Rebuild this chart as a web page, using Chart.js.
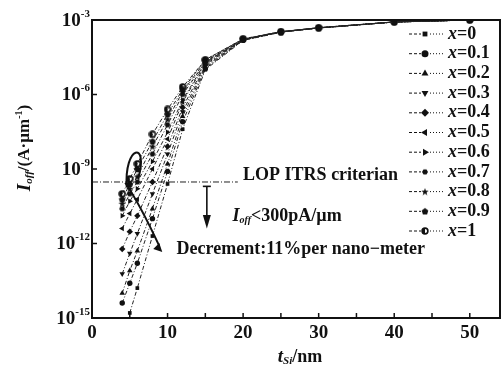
<!DOCTYPE html>
<html>
<head>
<meta charset="utf-8">
<script src="https://cdn.jsdelivr.net/npm/chart.js@4.4.0/dist/chart.umd.min.js"></script>
<style>
html,body{margin:0;padding:0;background:#fff;}
</style>
</head>
<body>
<canvas id="offChart" width="504" height="374"></canvas>
<script>
// silicon thickness t_Si (nm)
const thickness = [4, 5, 6, 8, 10, 12, 15, 20, 25, 30, 40, 50];

// off current I_off (A/um) for each Ge fraction x
const ioff_00 = [null, 1.6e-15, 1.6e-14, 2e-12, 2.5e-10, 4e-8, 1e-5, 1.5e-4, 3.2e-4, 4.7e-4, 8.2e-4, 1e-3];
const ioff_01 = [4e-15, 2.5e-14, 1.6e-13, 1e-11, 8e-10, 8e-8, 1.1e-5, 1.55e-4, 3.3e-4, 4.8e-4, 8.3e-4, 1e-3];
const ioff_02 = [1e-14, 8e-14, 5e-13, 2.5e-11, 1.6e-9, 1.3e-7, 1.25e-5, 1.55e-4, 3.3e-4, 4.8e-4, 8.3e-4, 1e-3];
const ioff_03 = [6e-14, 4e-13, 2.5e-12, 1e-10, 4e-9, 2e-7, 1.4e-5, 1.6e-4, 3.3e-4, 4.8e-4, 8.3e-4, 1e-3];
const ioff_04 = [6e-13, 3e-12, 1.3e-11, 3e-10, 8e-9, 3e-7, 1.6e-5, 1.6e-4, 3.3e-4, 4.8e-4, 8.3e-4, 1e-3];
const ioff_05 = [4e-12, 1.6e-11, 6e-11, 1e-9, 1.6e-8, 5e-7, 1.8e-5, 1.6e-4, 3.3e-4, 4.8e-4, 8.3e-4, 1e-3];
const ioff_06 = [1.3e-11, 5e-11, 1.6e-10, 2e-9, 3e-8, 6e-7, 2e-5, 1.65e-4, 3.3e-4, 4.8e-4, 8.3e-4, 1e-3];
const ioff_07 = [2.5e-11, 1e-10, 3e-10, 4e-9, 6e-8, 1e-6, 2e-5, 1.65e-4, 3.35e-4, 4.8e-4, 8.3e-4, 1e-3];
const ioff_08 = [4e-11, 1.6e-10, 5e-10, 8e-9, 1e-7, 1.3e-6, 2.2e-5, 1.7e-4, 3.35e-4, 4.9e-4, 8.4e-4, 1e-3];
const ioff_09 = [6e-11, 2.5e-10, 1e-9, 1.3e-8, 1.6e-7, 1.6e-6, 2.5e-5, 1.7e-4, 3.4e-4, 4.9e-4, 8.4e-4, 1e-3];
const ioff_10 = [1e-10, 4e-10, 1.6e-9, 2.5e-8, 2.5e-7, 2e-6, 2.5e-5, 1.75e-4, 3.4e-4, 4.9e-4, 8.4e-4, 1e-3];

const fractions = ['0', '0.1', '0.2', '0.3', '0.4', '0.5', '0.6', '0.7', '0.8', '0.9', '1'];
const allSeries = [ioff_00, ioff_01, ioff_02, ioff_03, ioff_04, ioff_05, ioff_06, ioff_07, ioff_08, ioff_09, ioff_10];

// LOP ITRS criterion 300 pA/um
const critX = [0, 19.3];
const critY = [3e-10, 3e-10];

// axis ticks
const xTicks = [0, 5, 10, 15, 20, 25, 30, 35, 40, 45, 50];
const xLabels = [0, 10, 20, 30, 40, 50];
const yTicks = [1e-15, 1e-12, 1e-9, 1e-6, 1e-3];
const yExp = ['-15', '-12', '-9', '-6', '-3'];


// small custom marker shapes
function makeMarker(draw){
let c = document.createElement('canvas');
c.width = 8; c.height = 8;
let g = c.getContext('2d');
g.fillStyle = '#111'; g.strokeStyle = '#111';
draw(g);
return c;
}
const starMark = makeMarker(g => {
g.beginPath();
for(let i = 0; i < 10; i++){
let r = i % 2 ? 1.6 : 3.9;
let a = -Math.PI/2 + i*Math.PI/5;
g.lineTo(4 + r*Math.cos(a), 4.3 + r*Math.sin(a));
}
g.closePath(); g.fill();
});
const pentMark = makeMarker(g => {
g.beginPath();
for(let i = 0; i < 5; i++){
let a = -Math.PI/2 + i*2*Math.PI/5;
g.lineTo(4 + 3.5*Math.cos(a), 4.3 + 3.5*Math.sin(a));
}
g.closePath(); g.fill();
});
const hexMark = makeMarker(g => {
g.beginPath();
for(let i = 0; i < 6; i++){
let a = i*Math.PI/3;
g.lineTo(4 + 3*Math.cos(a), 4 + 3*Math.sin(a));
}
g.closePath(); g.fill();
});
const ringMark = makeMarker(g => {
g.beginPath(); g.arc(4, 4, 2.9, 0, Math.PI*2);
g.lineWidth = 1.6; g.stroke();
g.beginPath(); g.arc(4, 4, 2.9, Math.PI/2, Math.PI*1.5); g.fill();
});

const styles = [
{pointStyle: 'rect', radius: 2.6, rotation: 0},
{pointStyle: 'circle', radius: 2.7, rotation: 0},
{pointStyle: 'triangle', radius: 3.2, rotation: 0},
{pointStyle: 'triangle', radius: 3.2, rotation: 180},
{pointStyle: 'rectRot', radius: 3.2, rotation: 0},
{pointStyle: 'triangle', radius: 3.2, rotation: -90},
{pointStyle: 'triangle', radius: 3.2, rotation: 90},
{pointStyle: hexMark, radius: 3, rotation: 0},
{pointStyle: starMark, radius: 3, rotation: 0},
{pointStyle: pentMark, radius: 3, rotation: 0},
{pointStyle: ringMark, radius: 3, rotation: 0}
];

let datasets = allSeries.map((vals, i) => ({
label: 'x=' + fractions[i],
data: thickness.map((t, j) => ({x: t, y: vals[j]})).filter(p => p.y !== null),
borderColor: '#222',
backgroundColor: '#111',
borderWidth: 1,
borderDash: [4, 2, 1, 2],
pointStyle: styles[i].pointStyle,
pointRadius: styles[i].radius,
pointRotation: styles[i].rotation,
pointBorderWidth: 0,
tension: 0,
showLegend: true
}));

datasets.push({
label: 'criterion',
data: critX.map((v, i) => ({x: v, y: critY[i]})),
borderColor: '#222',
borderWidth: 1,
borderDash: [6, 2, 1, 2],
pointRadius: 0,
showLegend: false
});

const serif = '"Liberation Serif", "Times New Roman", serif';

function txt(ctx, parts, x, y){
// parts: [text, size, italic, dy]
let cx = x;
parts.forEach(p => {
ctx.font = (p[2] ? 'italic ' : '') + 'bold ' + p[1] + 'px ' + serif;
ctx.fillText(p[0], cx, y + (p[3] || 0));
cx += ctx.measureText(p[0]).width;
});
return cx - x;
}
function txtWidth(ctx, parts){
let w = 0;
parts.forEach(p => {
ctx.font = (p[2] ? 'italic ' : '') + 'bold ' + p[1] + 'px ' + serif;
w += ctx.measureText(p[0]).width;
});
return w;
}

const decor = {
id: 'decor',
afterDraw(chart){
const ctx = chart.ctx;
const a = chart.chartArea;
const xs = chart.scales.x, ys = chart.scales.y;
const px = v => xs.getPixelForValue(v);
const py = v => ys.getPixelForValue(v);
ctx.save();
ctx.fillStyle = '#111';
ctx.strokeStyle = '#111';

// frame
ctx.lineWidth = 2;
ctx.strokeRect(a.left, a.top, a.right - a.left, a.bottom - a.top);

// ticks
ctx.lineWidth = 1.5;
xTicks.forEach(t => {
ctx.beginPath(); ctx.moveTo(px(t), a.bottom); ctx.lineTo(px(t), a.bottom - 5); ctx.stroke();
});
yTicks.forEach(t => {
ctx.beginPath(); ctx.moveTo(a.left, py(t)); ctx.lineTo(a.left + 5, py(t)); ctx.stroke();
});

// tick labels
ctx.textBaseline = 'middle';
ctx.textAlign = 'center';
ctx.font = 'bold 19px ' + serif;
xLabels.forEach(t => ctx.fillText(String(t), px(t), a.bottom + 15));
ctx.textAlign = 'left';
yTicks.forEach((t, i) => {
let parts = [['10', 19, false, 1], [yExp[i], 11, false, -6]];
let w = txtWidth(ctx, parts);
txt(ctx, parts, a.left - 2 - w, py(t));
});

// x title
let xt = [['t', 19, true, 0], ['Si', 11, true, 4], ['/nm', 18, false, 0]];
txt(ctx, xt, (a.left + a.right)/2 - txtWidth(ctx, xt)/2 + 4, 357);

// y title
let yt = [['I', 19, true, 0], ['off', 11, true, 4], ['/(A\u00b7\u00b5m', 17, false, 0], ['-1', 10, false, -6], [')', 17, false, 0]];
ctx.save();
ctx.translate(25, 148);
ctx.rotate(-Math.PI/2);
txt(ctx, yt, -txtWidth(ctx, yt)/2, 0);
ctx.restore();

// criterion annotation
txt(ctx, [['LOP ITRS criterian', 18, false, 0]], px(20), py(3e-10) - 7);
txt(ctx, [['I', 18, true, 0], ['off', 10, true, 4], ['<300pA/\u00b5m', 18, false, 0]], px(18.6), py(1.2e-11));
let ax = px(15.2);
ctx.lineWidth = 1.6;
ctx.beginPath(); ctx.moveTo(ax - 4, py(2e-10)); ctx.lineTo(ax + 4, py(2e-10)); ctx.stroke();
ctx.beginPath(); ctx.moveTo(ax, py(2e-10)); ctx.lineTo(ax, py(1.4e-11)); ctx.stroke();
ctx.beginPath(); ctx.moveTo(ax - 4, py(1.4e-11)); ctx.lineTo(ax + 4, py(1.4e-11)); ctx.lineTo(ax, py(4e-12)); ctx.closePath(); ctx.fill();

// decrement annotation with curved arrow
txt(ctx, [['Decrement:11%per nano\u2212meter', 18, false, 0]], px(11.2), py(6e-13));
ctx.lineWidth = 2;
ctx.beginPath();
ctx.moveTo(px(4.6), py(1.8e-10));
ctx.bezierCurveTo(px(4.2), py(9e-9), px(7.6), py(1.5e-8), px(6.1), py(4e-10));
ctx.stroke();
ctx.beginPath();
ctx.moveTo(px(4.4), py(2.8e-10));
ctx.quadraticCurveTo(px(6.3), py(4e-11), px(8.9), py(8e-13));
ctx.stroke();
let hx = px(9.3), hy = py(4.5e-13);
ctx.beginPath();
ctx.moveTo(hx, hy);
ctx.lineTo(hx - 9, hy - 3);
ctx.lineTo(hx - 3, hy - 9);
ctx.closePath(); ctx.fill();

// legend
ctx.lineWidth = 1;
chart.data.datasets.forEach((ds, i) => {
if(!ds.showLegend) return;
let ly = 34 + i*19.7;
ctx.setLineDash([3, 2]);
ctx.beginPath(); ctx.moveTo(409, ly); ctx.lineTo(421, ly); ctx.stroke();
ctx.setLineDash([1, 2]);
ctx.beginPath(); ctx.moveTo(430, ly); ctx.lineTo(445, ly); ctx.stroke();
ctx.setLineDash([]);
Chart.helpers.drawPoint(ctx, {pointStyle: ds.pointStyle, radius: ds.pointRadius + 0.8, rotation: ds.pointRotation, borderWidth: 0}, 425, ly);
txt(ctx, [['x', 18, true, 0], ['=' + fractions[i], 18, false, 0]], 448, ly);
});
ctx.restore();
}
};

new Chart(document.getElementById('offChart'), {
type: 'line',
data: {datasets: datasets},
options: {
responsive: false,
animation: false,
layout: {padding: {left: 92, top: 20, right: 4, bottom: 56}},
plugins: {legend: {display: false}, tooltip: {enabled: false}},
scales: {
x: {type: 'linear', min: 0, max: 54, display: false},
y: {type: 'logarithmic', min: 1e-15, max: 1e-3, display: false}
}
},
plugins: [decor]
});
</script>
</body>
</html>
